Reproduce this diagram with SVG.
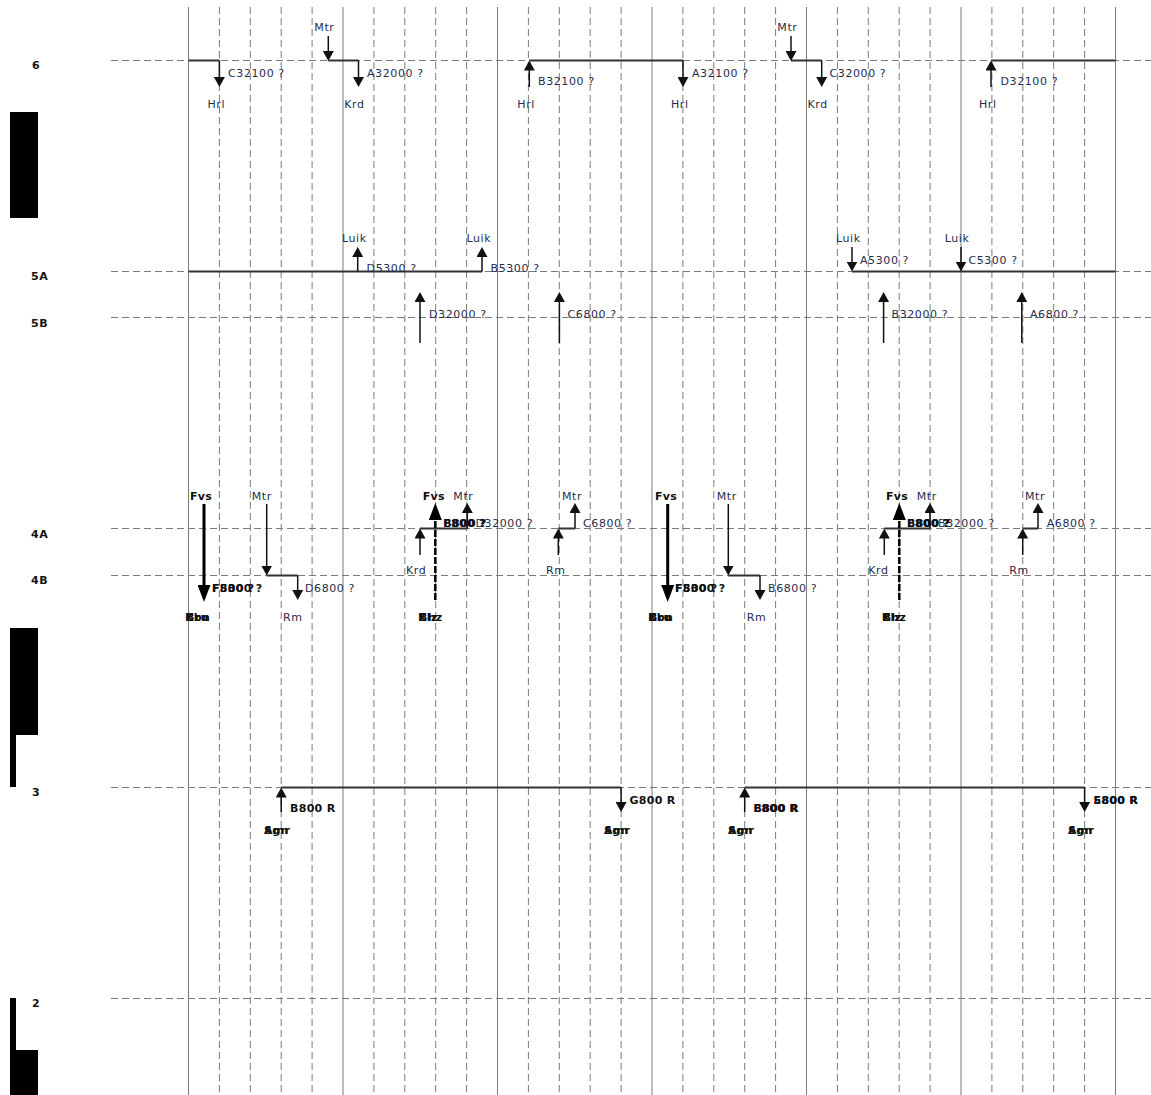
<svg xmlns="http://www.w3.org/2000/svg" width="1151" height="1095" viewBox="0 0 1151 1095">
<defs>
<style>
.bg{fill:#fff}
.vs{stroke:#7a7a7a;stroke-width:1;fill:none}
.vd{stroke:#7a7a7a;stroke-width:1;stroke-dasharray:7,4;fill:none}
.hd{stroke:#7a7a7a;stroke-width:1;stroke-dasharray:7,4;fill:none}
.tr{stroke:#333;stroke-width:2;fill:none}
.ar{stroke:#111;stroke-width:1.5;fill:none;marker-end:url(#ah)}
.ab{stroke:#000;stroke-width:3;fill:none;marker-end:url(#ahb)}
.abd{stroke:#000;stroke-width:2.5;stroke-dasharray:7,2;fill:none;marker-end:url(#ahb)}
.bar{fill:#000}
text{font-family:"DejaVu Sans","Liberation Sans",sans-serif;font-size:11px;letter-spacing:0.6px}
.t{fill:#1f2d4d}
.s{fill:#1f2d4d}
.b{fill:#111;font-weight:bold;letter-spacing:0.3px}
.rl{fill:#111;font-weight:bold;font-size:11px}
</style>
<marker id="ah" viewBox="0 0 10 11" refX="7" refY="5.5" markerWidth="10" markerHeight="11" markerUnits="userSpaceOnUse" orient="auto"><path d="M0,0 L10,5.5 L0,11 Z" fill="#111"/></marker>
<marker id="ahb" viewBox="0 0 17 13" refX="12" refY="6.5" markerWidth="17" markerHeight="13" markerUnits="userSpaceOnUse" orient="auto"><path d="M0,0 L17,6.5 L0,13 Z" fill="#000"/></marker>
</defs>
<rect class="bg" x="0" y="0" width="1151" height="1095"/>

<g id="grid">
<path class="vs" d="M188.5,7V1095M343,7V1095M497.5,7V1095M652,7V1095M806.5,7V1095M961,7V1095M1115.5,7V1095"/>
<path class="vd" d="M219.4,7V1095M250.3,7V1095M281.2,7V1095M312.1,7V1095M373.9,7V1095M404.8,7V1095M435.7,7V1095M466.6,7V1095M528.4,7V1095M559.3,7V1095M590.2,7V1095M621.1,7V1095M682.9,7V1095M713.8,7V1095M744.7,7V1095M775.6,7V1095M837.4,7V1095M868.3,7V1095M899.2,7V1095M930.1,7V1095M991.9,7V1095M1022.8,7V1095M1053.7,7V1095M1084.6,7V1095"/>
<path class="hd" d="M111,60.5H1151M111,271.5H1151M111,317.5H1151M111,528.5H1151M111,575.5H1151M111,787.5H1151M111,998.5H1151"/>
</g>

<g id="bars">
<rect class="bar" x="10" y="112" width="28" height="106"/>
<rect class="bar" x="10" y="628" width="28" height="107"/>
<rect class="bar" x="10" y="735" width="6" height="52"/>
<rect class="bar" x="10" y="998" width="6" height="52"/>
<rect class="bar" x="10" y="1050" width="28" height="45"/>
</g>

<g id="row-labels">
<text class="rl" x="32" y="69">6</text>
<text class="rl" x="31" y="280">5A</text>
<text class="rl" x="31" y="327">5B</text>
<text class="rl" x="31" y="538">4A</text>
<text class="rl" x="31" y="584">4B</text>
<text class="rl" x="32" y="796">3</text>
<text class="rl" x="32" y="1007">2</text>
</g>

<g id="connectors">
<path class="tr" d="M188.5,60.5H219.4M328.3,60.5H358.5M529.3,60.5H683M791,60.5H821.7M991,60.5H1115.5"/>
<path class="tr" d="M188.5,271.5H482M852,271.5H1115.5"/>
<path class="tr" d="M266.7,575.5H297.7M728.3,575.5H760M420,528.5H467.3M884.3,528.5H930M558.3,528.5H575M1022.7,528.5H1038"/>
<path class="tr" d="M281.2,787.5H621.1M744.7,787.5H1084.6"/>
<path class="ar" d="M219.4,60.5V84"/>
<path class="ar" d="M328.3,36V58"/>
<path class="ar" d="M358.5,60.5V84"/>
<path class="ar" d="M529.3,87V63.5"/>
<path class="ar" d="M683,60.5V84"/>
<path class="ar" d="M791,36V58"/>
<path class="ar" d="M821.7,60.5V84"/>
<path class="ar" d="M991,87V63.5"/>
<path class="ar" d="M357.7,271.5V250"/>
<path class="ar" d="M482,271.5V250"/>
<path class="ar" d="M852,247V268.5"/>
<path class="ar" d="M961,247V268.5"/>
<path class="ar" d="M420,343V295"/>
<path class="ar" d="M559.4,343V295"/>
<path class="ar" d="M883.6,343V295"/>
<path class="ar" d="M1021.8,343V295"/>
<path class="ab" d="M204,504V597"/>
<path class="ab" d="M667.7,504V597"/>
<path class="abd" d="M435.3,600V508"/>
<path class="abd" d="M899.3,600V508"/>
<path class="ar" d="M266.7,504V572.5"/>
<path class="ar" d="M297.7,575.5V597"/>
<path class="ar" d="M728.3,504V572.5"/>
<path class="ar" d="M760,575.5V597"/>
<path class="ar" d="M420,555V531.5"/>
<path class="ar" d="M467.3,528.5V506"/>
<path class="ar" d="M558.3,555V531.5"/>
<path class="ar" d="M575,528.5V506"/>
<path class="ar" d="M884.3,555V531.5"/>
<path class="ar" d="M930,528.5V506"/>
<path class="ar" d="M1022.7,555V531.5"/>
<path class="ar" d="M1038,528.5V506"/>
<path class="ar" d="M281.2,812V790.5"/>
<path class="ar" d="M621.1,787.5V809"/>
<path class="ar" d="M744.7,812V790.5"/>
<path class="ar" d="M1084.6,787.5V809"/>
</g>

<g id="n-row6-c32100"><text class="t" x="228" y="77">C32100 ?</text><text class="s" x="207.5" y="108">Hrl</text></g>
<g id="n-row6-a32000"><text class="s" x="314.3" y="30.5">Mtr</text><text class="t" x="367" y="77">A32000 ?</text><text class="s" x="344.3" y="108">Krd</text></g>
<g id="n-row6-b32100"><text class="t" x="538" y="85">B32100 ?</text><text class="s" x="517.3" y="108">Hrl</text></g>
<g id="n-row6-a32100"><text class="t" x="692" y="77">A32100 ?</text><text class="s" x="671" y="108">Hrl</text></g>
<g id="n-row6-c32000"><text class="s" x="777.3" y="30.5">Mtr</text><text class="t" x="829.5" y="77">C32000 ?</text><text class="s" x="807.5" y="108">Krd</text></g>
<g id="n-row6-d32100"><text class="t" x="1000.5" y="85">D32100 ?</text><text class="s" x="979" y="108">Hrl</text></g>

<g id="n-row5a-d5300"><text class="s" x="342" y="242">Luik</text><text class="t" x="366.6" y="272">D5300 ?</text></g>
<g id="n-row5a-b5300"><text class="s" x="466.5" y="242">Luik</text><text class="t" x="490.5" y="272">B5300 ?</text></g>
<g id="n-row5a-a5300"><text class="s" x="836" y="242">Luik</text><text class="t" x="860" y="264">A5300 ?</text></g>
<g id="n-row5a-c5300"><text class="s" x="944.7" y="242">Luik</text><text class="t" x="968.4" y="264">C5300 ?</text></g>

<g id="n-row5b-d32000"><text class="t" x="429" y="317.5">D32000 ?</text></g>
<g id="n-row5b-c6800"><text class="t" x="567.5" y="317.5">C6800 ?</text></g>
<g id="n-row5b-b32000"><text class="t" x="891.5" y="317.5">B32000 ?</text></g>
<g id="n-row5b-a6800"><text class="t" x="1030" y="317.5">A6800 ?</text></g>

<g id="n-fvs-1"><text class="b" x="190" y="500">Fvs</text><text class="b" x="212" y="592">F800 ?</text><text class="b" x="212" y="592">F5300 ?</text><text class="b" x="185" y="621">Kbn</text><text class="b" x="186" y="621">Bru</text></g>
<g id="n-row4b-d6800"><text class="s" x="251.7" y="500">Mtr</text><text class="t" x="305" y="592">D6800 ?</text><text class="s" x="283" y="621">Rm</text></g>
<g id="n-row4a-krd-1"><text class="s" x="406" y="574">Krd</text><text class="b" x="422.7" y="500">Fvs</text><text class="s" x="453.3" y="500">Mtr</text><text class="b" x="443.3" y="527">F800 ?</text><text class="b" x="443.3" y="527">B800 ?</text><text class="t" x="475.5" y="527">D32000 ?</text><text class="b" x="418" y="621">Klz</text><text class="b" x="419" y="621">Bhz</text></g>
<g id="n-row4a-c6800"><text class="s" x="546" y="574">Rm</text><text class="s" x="562" y="500">Mtr</text><text class="t" x="583" y="527">C6800 ?</text></g>
<g id="n-fvs-2"><text class="b" x="655" y="500">Fvs</text><text class="b" x="675" y="592">F800 ?</text><text class="b" x="675" y="592">F5300 ?</text><text class="b" x="648" y="621">Kbn</text><text class="b" x="649" y="621">Bru</text></g>
<g id="n-row4b-b6800"><text class="s" x="716.7" y="500">Mtr</text><text class="t" x="768" y="592">B6800 ?</text><text class="s" x="746.7" y="621">Rm</text></g>
<g id="n-row4a-krd-2"><text class="s" x="868.3" y="574">Krd</text><text class="b" x="886" y="500">Fvs</text><text class="s" x="916.7" y="500">Mtr</text><text class="b" x="907" y="527">E800 ?</text><text class="b" x="907" y="527">B800 ?</text><text class="t" x="938" y="527">B32000 ?</text><text class="b" x="881.7" y="621">Klz</text><text class="b" x="882.7" y="621">Bhz</text></g>
<g id="n-row4a-a6800"><text class="s" x="1009.3" y="574">Rm</text><text class="s" x="1025" y="500">Mtr</text><text class="t" x="1046.7" y="527">A6800 ?</text></g>

<g id="n-row3-b800"><text class="b" x="290" y="811.5">B800 R</text><text class="b" x="264" y="834">Sgn</text><text class="b" x="264" y="834">Amr</text></g>
<g id="n-row3-g800"><text class="b" x="629.5" y="804">G800 R</text><text class="b" x="604" y="834">Sgn</text><text class="b" x="604" y="834">Amr</text></g>
<g id="n-row3-e800"><text class="b" x="753.5" y="811.5">E800 R</text><text class="b" x="753.5" y="811.5">B800 R</text><text class="b" x="728" y="834">Sgn</text><text class="b" x="728" y="834">Amr</text></g>
<g id="n-row3-5800"><text class="b" x="1093.5" y="804">E800 R</text><text class="b" x="1093.5" y="804">5800 R</text><text class="b" x="1068" y="834">Sgn</text><text class="b" x="1068" y="834">Amr</text></g>
</svg>
